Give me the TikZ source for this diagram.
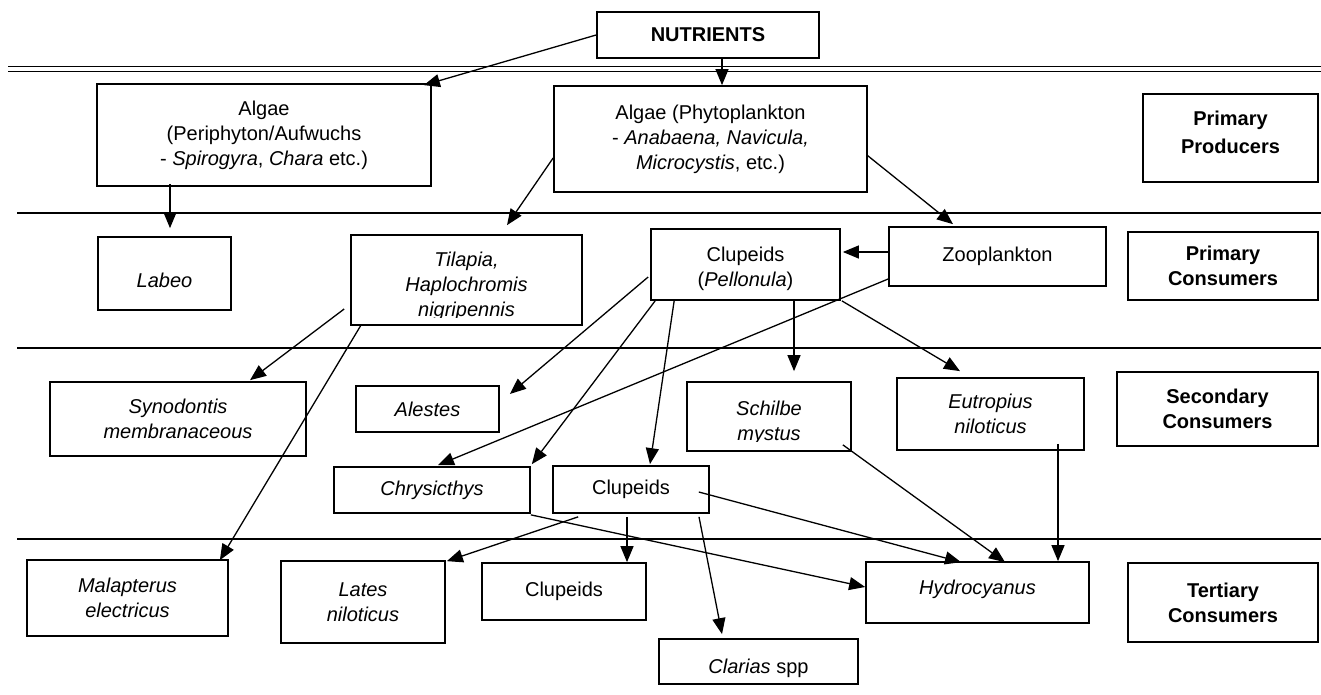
\documentclass[tikz,border=0pt]{standalone}
\usepackage{fontspec}
\setmainfont{Liberation Sans}
\usetikzlibrary{arrows.meta,calc}
\tikzset{
  bx/.style={draw, line width=1.7pt, inner sep=0pt, align=center, font=\fontsize{20}{25}\selectfont},
  hd/.style={bx, font=\fontsize{20}{25}\selectfont\bfseries},
  txt/.style={inner sep=0pt, align=center, font=\fontsize{20}{25}\selectfont},
  arr/.style={line width=1.3pt, -{Triangle[length=16pt,width=13pt]}},
  sep/.style={line width=1.9pt},
}
\begin{document}
\begin{tikzpicture}[x=1pt,y=-1pt]
\useasboundingbox (0,0) rectangle (1321,695);
% level separators
\draw[sep] (8,66.5) -- (1321,66.5);
\draw[sep] (8,71.5) -- (1321,71.5);
\draw[sep] (17,213) -- (1321,213);
\draw[sep] (17,348) -- (1321,348);
\draw[sep] (17,539) -- (1321,539);

% boxes
\node[hd, minimum width=222, minimum height=46] (nut) at (708,35) {NUTRIENTS};
\node[bx, minimum width=334, minimum height=102] (peri) at (264,135) {Algae\\(Periphyton/Aufwuchs\\- \textit{Spirogyra}, \textit{Chara} etc.)};
\node[bx, minimum width=313, minimum height=106] (phyto) at (710.5,139) {Algae (Phytoplankton\\- \textit{Anabaena, Navicula,}\\\textit{Microcystis}, etc.)};
\node[bx, minimum width=175, minimum height=88] (pprod) at (1230.5,138) {};
\node[txt, font=\fontsize{20}{28}\selectfont\bfseries] (pprodtxt) at (1230.5,132) {Primary\\Producers};

\node[bx, minimum width=133, minimum height=73, text height=28pt, text depth=0pt] (labeo) at (164.5,273.5) {\textit{Labeo}};
\node[bx, minimum width=231, minimum height=90] (tilapia) at (466.5,280) {};
\begin{scope}
  \clip (352,236) rectangle (581,317);
  \node[txt] (tilapiatxt) at (466.5,286) {\textit{Tilapia,}\\\textit{Haplochromis}\\\textit{nigripennis}};
\end{scope}
\node[bx, minimum width=189, minimum height=71] (clupP) at (745.5,264.5) {};
\node[txt] (clupPtxt) at (745.5,269) {Clupeids\\(\textit{Pellonula})};
\node[bx, minimum width=217, minimum height=59] (zoo) at (997.5,256.5) {Zooplankton};
\node[hd, minimum width=190, minimum height=68] (pcons) at (1223,266) {Primary\\Consumers};

\node[bx, minimum width=256, minimum height=74] (syn) at (178,419) {\textit{Synodontis}\\\textit{membranaceous}};
\node[bx, minimum width=143, minimum height=46] (alestes) at (427.5,409) {\textit{Alestes}};
\node[bx, minimum width=164, minimum height=69] (schilbe) at (769,416.5) {};
\begin{scope}
  \clip (689,384) rectangle (849,441);
  \node[txt] (schilbetxt) at (769,423) {\textit{Schilbe}\\\textit{mystus}};
\end{scope}
\node[bx, minimum width=187, minimum height=72] (eutrop) at (990.5,414) {\textit{Eutropius}\\\textit{niloticus}};
\node[hd, minimum width=201, minimum height=74] (scons) at (1217.5,409) {Secondary\\Consumers};

\node[bx, minimum width=196, minimum height=46] (chrys) at (432,490) {\textit{Chrysicthys}};
\node[bx, minimum width=156, minimum height=47] (clupM) at (631,489.5) {Clupeids};

\node[bx, minimum width=201, minimum height=76] (malap) at (127.5,598) {\textit{Malapterus}\\\textit{electricus}};
\node[bx, minimum width=164, minimum height=82] (lates) at (363,602) {\textit{Lates}\\\textit{niloticus}};
\node[bx, minimum width=164, minimum height=57] (clupB) at (564,591.5) {Clupeids};
\node[bx, minimum width=223, minimum height=61, text height=14.6pt, text depth=10pt] (hydro) at (977.5,592.5) {\textit{Hydrocyanus}};
\node[hd, minimum width=190, minimum height=79] (tcons) at (1223,602.5) {Tertiary\\Consumers};
\node[bx, minimum width=199, minimum height=45, text height=24pt, text depth=0pt] (clarias) at (758.5,661.5) {\textit{Clarias} spp};

% connectors
\draw[arr] (nut.west) -- ([shift={(-8,2)}]peri.north east);
\draw[arr] ([shift={(14,0)}]nut.south) -- ([shift={(11.5,0)}]phyto.north);
\draw[arr] ([shift={(-94,-3)}]peri.south) -- ([shift={(5.5,-8)}]labeo.north);
\draw[arr] ([shift={(0,19)}]phyto.west) -- ([shift={(40.5,-9)}]tilapia.north);
\draw[arr] ([shift={(-1,16)}]phyto.east) -- ([shift={(-44.5,-2)}]zoo.north);
\draw[arr] ([shift={(0,-4.5)}]zoo.west) -- ([shift={(2,-12.5)}]clupP.east);
\draw[arr] ([shift={(0,22.5)}]zoo.west) -- ([shift={(6,-1)}]chrys.north);
\draw[arr] ([shift={(-2,12.5)}]clupP.west) -- ([shift={(10,-15)}]alestes.east);
\draw[arr] ([shift={(5,0)}]clupP.south west) -- ([shift={(1,-2)}]chrys.north east);
\draw[arr] ([shift={(24,0)}]clupP.south west) -- ([shift={(19,-1)}]clupM.north);
\draw[arr] ([shift={(48.5,0)}]clupP.south) -- ([shift={(25,-10)}]schilbe.north);
\draw[arr] ([shift={(1,0)}]clupP.south east) -- ([shift={(-30.5,-6)}]eutrop.north);
\draw[arr] ([shift={(-6,29)}]tilapia.west) -- ([shift={(72,-1)}]syn.north);
\draw[arr] ([shift={(11,-1)}]tilapia.south west) -- ([shift={(-9,1)}]malap.north east);
\draw[arr] ([shift={(-9,-7)}]schilbe.south east) -- ([shift={(27.5,1)}]hydro.north);
\draw[arr] ([shift={(67.5,-7)}]eutrop.south) -- ([shift={(80.5,0)}]hydro.north);
\draw[arr] ([shift={(-11,2.5)}]clupM.east) -- ([shift={(-16.5,1)}]hydro.north);
\draw[arr] ([shift={(0,1)}]chrys.south east) -- ([shift={(0,-5.5)}]hydro.west);
\draw[arr] ([shift={(26,3)}]clupM.south west) -- ([shift={(1,1)}]lates.north east);
\draw[arr] ([shift={(-4,3)}]clupM.south) -- ([shift={(63,0)}]clupB.north);
\draw[arr] ([shift={(68,3)}]clupM.south) -- ([shift={(-36.5,-4)}]clarias.north);
\end{tikzpicture}
\end{document}
